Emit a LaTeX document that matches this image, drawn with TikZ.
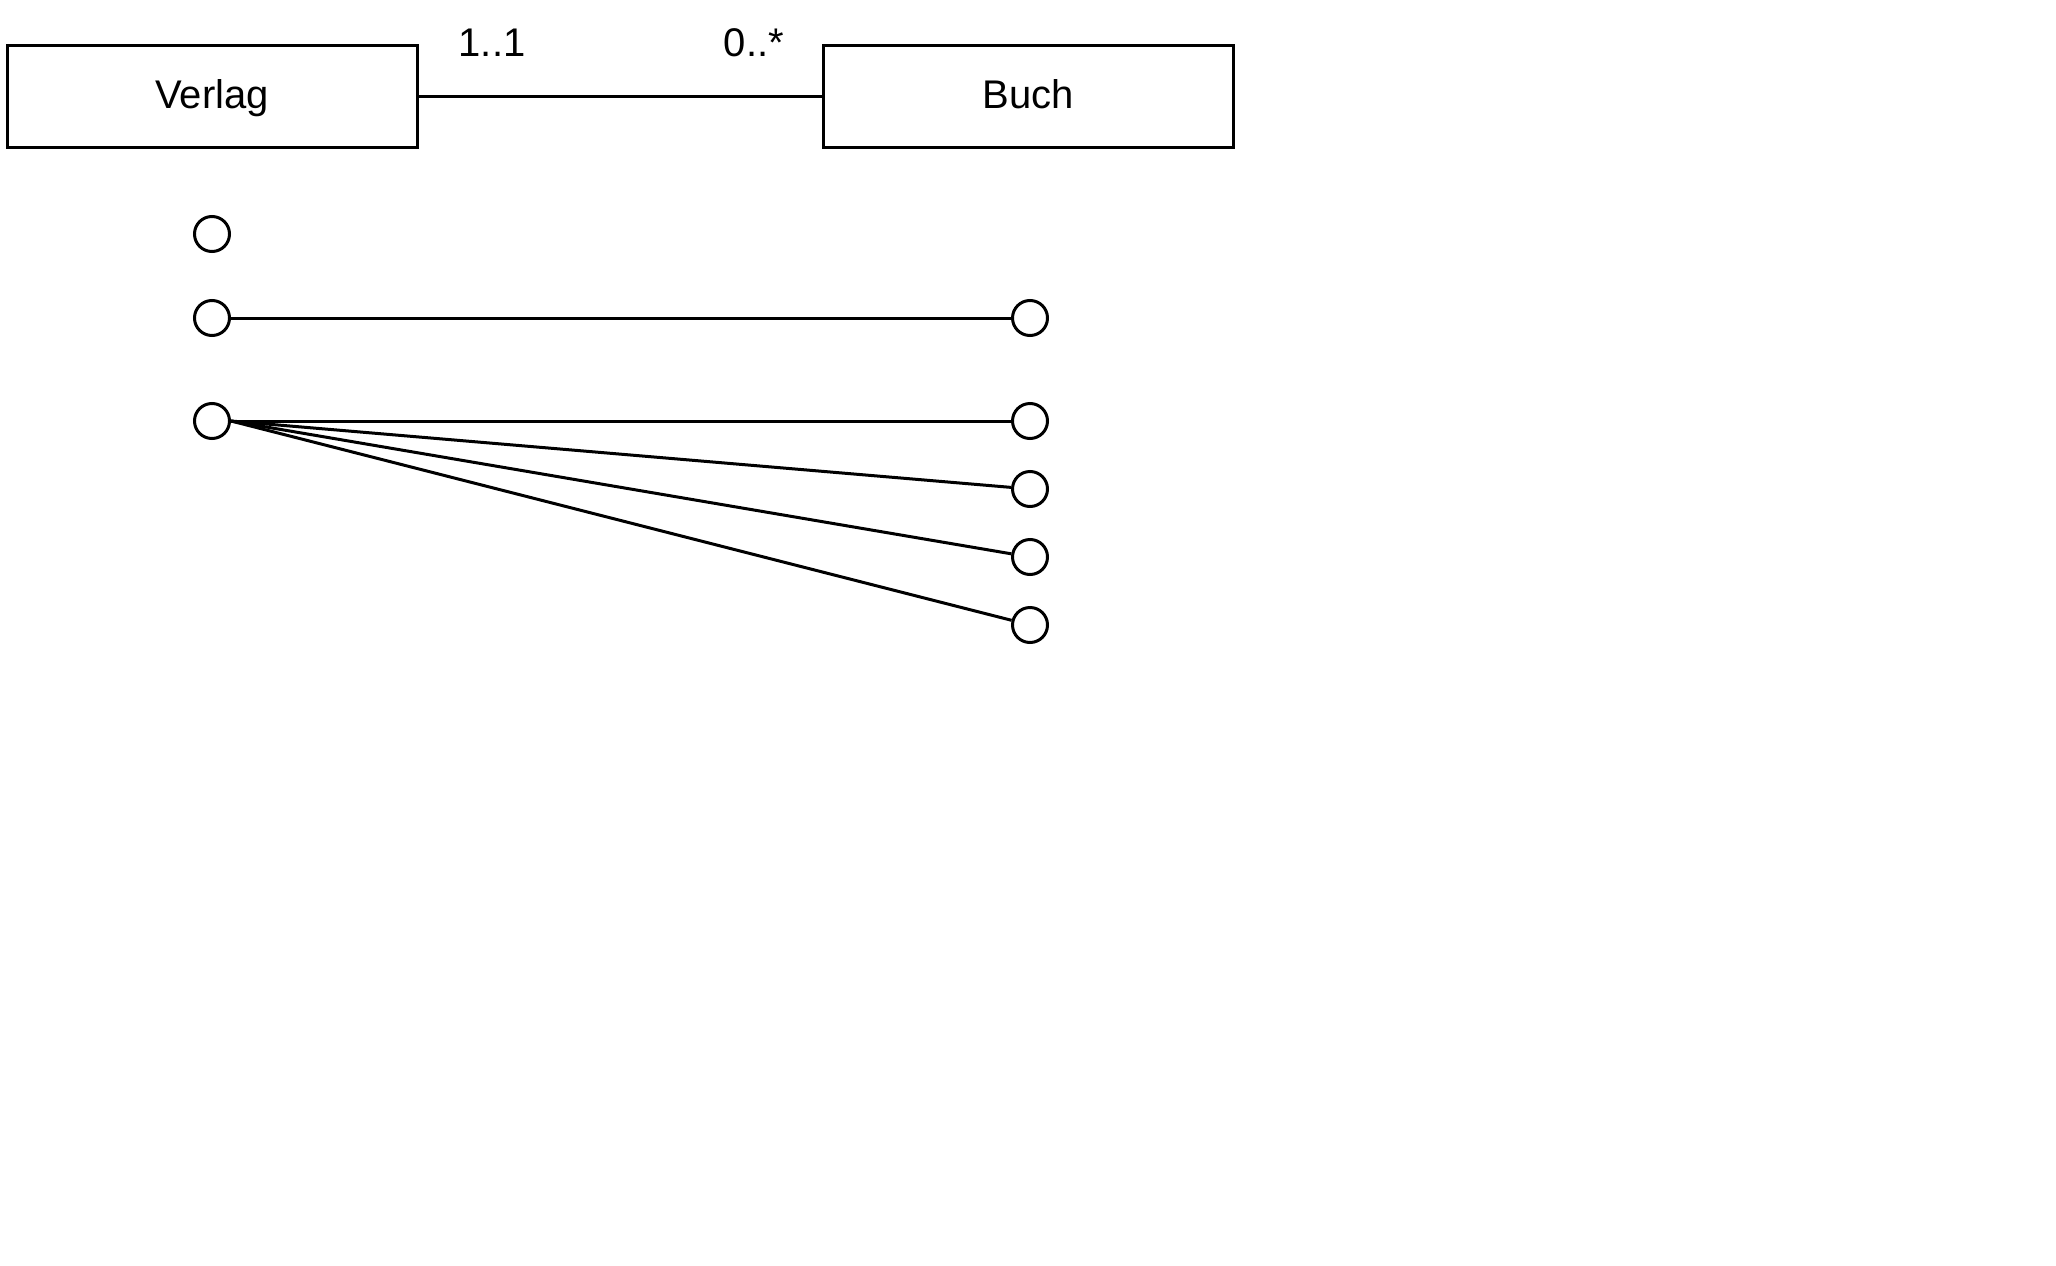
\documentclass[tikz,border=0pt]{standalone}
\usepackage{fontspec}
\setmainfont{Liberation Sans}
\begin{document}
\begin{tikzpicture}[x=1pt,y=-1pt,
  cls/.style={draw=black,line width=3pt,minimum width=410pt,minimum height=102pt,inner sep=0pt,text height=30pt,text depth=6pt,font=\fontsize{40}{48}\selectfont},
  obj/.style={draw=black,circle,line width=3pt,minimum size=35pt,inner sep=0pt},
  lbl/.style={font=\fontsize{40}{48}\selectfont,inner sep=0pt},
  link/.style={line width=3pt}]
\useasboundingbox (0,0) rectangle (2056,1266);
\node[cls] (verlag) at (212,96) {Verlag};
\node[cls] (buch) at (1028.5,96) {Buch};
\draw[link] (verlag) -- (buch);
\node[lbl] (m1) at (492,43) {1..1};
\node[lbl] (m2) at (754,43) {0..*};
\node[obj] (l1) at (212,234) {};
\node[obj] (l2) at (212,318) {};
\node[obj] (l3) at (212,421) {};
\node[obj] (r2) at (1030,318) {};
\node[obj] (r3) at (1030,421) {};
\node[obj] (r4) at (1030,489) {};
\node[obj] (r5) at (1030,557) {};
\node[obj] (r6) at (1030,625) {};
\draw[link] (l2) -- (r2);
\draw[link] (l3) -- (r3);
\draw[link] (l3.east) -- (r4);
\draw[link] (l3.east) -- (r5);
\draw[link] (l3.east) -- (r6);
\end{tikzpicture}
\end{document}
